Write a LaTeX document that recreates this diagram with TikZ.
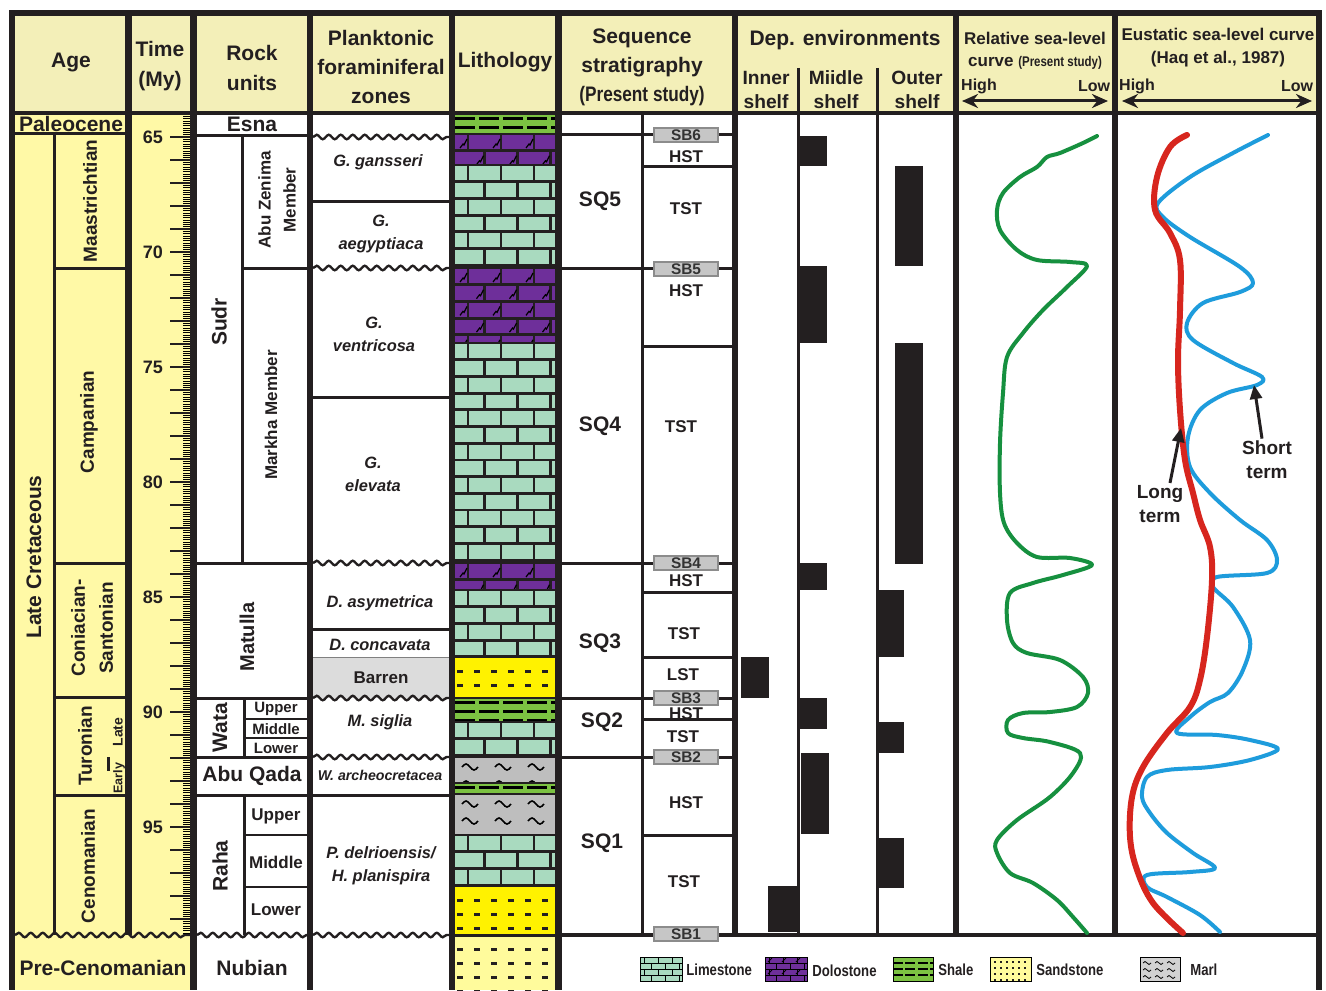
\documentclass[tikz,border=0pt]{standalone}
\usepackage{fontspec}
\setmainfont{Liberation Sans}
\newfontfamily\narrowfont{Liberation Sans}[FakeStretch=0.82]
\usetikzlibrary{positioning, calc, arrows.meta, decorations.pathmorphing}

\definecolor{hdrbg}{HTML}{F3EFB8}
\definecolor{agebg}{HTML}{FFF9A6}
\definecolor{limecol}{HTML}{A9DABF}
\definecolor{dolocol}{HTML}{6E2F9A}
\definecolor{shalecol}{HTML}{7CC242}
\definecolor{sandcol}{HTML}{FFF200}
\definecolor{sandpale}{HTML}{FFFB9C}
\definecolor{marlcol}{HTML}{BEBEBE}
\definecolor{barrencol}{HTML}{DCDCDC}
\definecolor{sbgray}{HTML}{C6C6C6}
\definecolor{inkcol}{HTML}{231F20}
\definecolor{relcol}{HTML}{16903F}
\definecolor{longcol}{HTML}{D7261E}
\definecolor{shortcol}{HTML}{1E9CDC}

% lithology column: x = 455 ... 555
\newcommand\bricks[3]{%
  \begin{scope}
    \clip (455,#1) rectangle (555,#2);
    \fill[#3] (455,#1) rectangle (555,#2);
    \foreach \k in {0,...,14} {
      \pgfmathsetmacro\yy{#1+16.7*\k}
      \pgfmathsetmacro\xo{mod(\k,2)*16.5}
      \draw[mortar] (455,\yy) -- (555,\yy);
      \foreach \j in {0,1,2}
        \draw[mortar] ({468+\xo+33*\j},\yy) -- ++(0,16.7);
    }
  \end{scope}}
\newcommand\dolomarks[2]{%
  \begin{scope}
    \clip (455,#1) rectangle (555,#2);
    \foreach \k in {0,...,14} {
      \pgfmathsetmacro\yy{#1+16.7*\k}
      \pgfmathsetmacro\xo{mod(\k,2)*16.5}
      \foreach \j in {-1,0,1,2}
        \draw[line width=0.6pt] ({460+\xo+33*\j},{\yy+14}) -- ++(3,-4) -- ++(1,1) -- ++(3,-6);
    }
  \end{scope}}
\newcommand\shale[2]{%
  \begin{scope}
    \clip (455,#1) rectangle (555,#2);
    \fill[shalecol] (455,#1) rectangle (555,#2);
    \foreach \k in {0,...,3}
      \draw[line width=1.5pt, dash pattern=on 10pt off 2pt] (455,{#1+4+9*\k}) -- (555,{#1+4+9*\k});
  \end{scope}}
\newcommand\sandstone[3]{%
  \begin{scope}
    \clip (455,#1) rectangle (555,#2);
    \fill[#3] (455,#1) rectangle (555,#2);
    \foreach \k in {0,...,4}
      \foreach \xx in {457,474,...,550}
        \fill[inkcol] (\xx,{#1+13+14*\k}) rectangle ++(6,3);
  \end{scope}}
\newcommand\marl[2]{%
  \begin{scope}
    \clip (455,#1) rectangle (555,#2);
    \fill[marlcol] (455,#1) rectangle (555,#2);
    \foreach \k in {0,...,3}
      \foreach \xx in {462,495,528}
        \draw[line width=0.8pt] (\xx,{#1+10+17*\k}) sin ++(4,-3) cos ++(4,3) sin ++(4,3) cos ++(4,-3);
  \end{scope}}
% legend swatch with bricks
\newcommand\legendbricks[2]{%
  \begin{scope}
    \clip (#1,957) rectangle ++(42,24);
    \fill[#2] (#1,957) rectangle ++(42,24);
    \foreach \k in {0,...,3} {
      \pgfmathsetmacro\yy{957+6*\k}
      \pgfmathsetmacro\xo{mod(\k,2)*7}
      \draw[line width=0.5pt] (#1,\yy) -- ++(42,0);
      \foreach \j in {0,...,3}
        \draw[line width=0.5pt] ({#1+4+\xo+14*\j},\yy) -- ++(0,6);
    }
  \end{scope}
  \draw[line width=0.5pt] (#1,957) rectangle ++(42,24);}

\begin{document}
\begin{tikzpicture}[x=0.5pt, y=-0.5pt, font=\bfseries, text=inkcol,
    sep/.style={line width=3pt, draw=inkcol},
    rule/.style={line width=1.5pt, draw=inkcol},
    fine/.style={line width=1pt, draw=inkcol},
    mortar/.style={line width=1.4pt, draw=inkcol},
    wavy/.style={draw=inkcol, line width=1.2pt, decorate, decoration={snake, segment length=6pt, amplitude=1.1pt}},
    hdr/.style={align=center, inner sep=0pt, font=\bfseries\fontsize{10.5}{14.5}\selectfont},
    rockname/.style={inner sep=0pt, font=\bfseries\fontsize{10.5}{12}\selectfont},
    stage/.style={rotate=90, align=center, inner sep=0pt, font=\bfseries\fontsize{9.5}{14}\selectfont},
    member/.style={rotate=90, align=center, inner sep=0pt, font=\bfseries\fontsize{8.5}{12.5}\selectfont},
    subunit/.style={inner sep=0pt, font=\bfseries\fontsize{8.5}{10}\selectfont},
    zone/.style={align=center, inner sep=0pt, font=\bfseries\itshape\fontsize{8.2}{11.5}\selectfont},
    ticklab/.style={inner sep=0pt, font=\bfseries\fontsize{9}{10}\selectfont},
    tract/.style={inner sep=0pt, font=\bfseries\fontsize{8.5}{10}\selectfont},
    seqlab/.style={inner sep=0pt, font=\bfseries\fontsize{10.5}{12}\selectfont},
    sbbox/.style={draw=black!45, fill=sbgray, line width=0.6pt, minimum width=32pt, minimum height=7pt, inner sep=0pt, text=black!80, font=\bfseries\fontsize{7.7}{8}\selectfont},
    envbar/.style={fill=inkcol},
    legtext/.style={anchor=west, inner sep=0pt, font=\narrowfont\bfseries\fontsize{8}{9}\selectfont},
    termlab/.style={align=center, inner sep=0pt, font=\bfseries\fontsize{9.5}{12}\selectfont},
    pointer/.style={line width=1.5pt, draw=inkcol, -{Triangle[length=7pt, width=6pt]}},
    scalearrow/.style={line width=1.5pt, draw=inkcol, {Stealth[length=8pt, width=7pt]}-{Stealth[length=8pt, width=7pt]}}]

    \useasboundingbox (0,0) rectangle (1326,990);
    \fill[white] (0,0) rectangle (1326,990);

    % Backgrounds
    \fill[hdrbg] (14,16) rectangle (1318,113);
    \fill[agebg] (14,113) rectangle (192,990);
    \fill[barrencol] (313,657) rectangle (449,698);

    % Lithology
    \shale{114}{134}
    \bricks{134}{165}{dolocol} \dolomarks{134}{165}
    \bricks{165}{268}{limecol}
    \bricks{268}{343}{dolocol} \dolomarks{268}{343}
    \bricks{343}{563}{limecol}
    \bricks{563}{590}{dolocol} \dolomarks{563}{590}
    \bricks{590}{657}{limecol}
    \sandstone{657}{698}{sandcol}
    \shale{698}{722}
    \bricks{722}{757}{limecol}
    \marl{757}{783}
    \shale{783}{794}
    \marl{794}{835}
    \bricks{835}{886}{limecol}
    \sandstone{886}{935}{sandcol}
    \sandstone{935}{990}{sandpale}
    \foreach \y in {134,165,268,343,563,590,657,698,722,757,783,794,835,886}
      \draw[fine] (455,\y) -- (555,\y);
    \draw[rule] (455,935) -- (555,935);

    % Dep. environments bars
    \fill[envbar] (800,136) rectangle (827,166);
    \fill[envbar] (895,166) rectangle (923,266);
    \fill[envbar] (800,266) rectangle (827,343);
    \fill[envbar] (895,343) rectangle (923,564);
    \fill[envbar] (800,563) rectangle (827,590);
    \fill[envbar] (876,590) rectangle (904,657);
    \fill[envbar] (741,657) rectangle (769,698);
    \fill[envbar] (800,698) rectangle (827,729);
    \fill[envbar] (878,722) rectangle (904,753);
    \fill[envbar] (801,753) rectangle (829,834);
    \fill[envbar] (878,838) rectangle (904,888);
    \fill[envbar] (768,886) rectangle (798,932);
    \draw[rule] (798,68) -- (798,935);
    \draw[rule] (877,68) -- (877,935);

    % Age column
    \draw[rule] (14,133) -- (127,133);
    \draw[rule] (54.5,133) -- (54.5,935);
    \foreach \y in {268,563,697,795}
      \draw[rule] (54,\y) -- (127,\y);
    \draw[rule] (108,757) -- (108,771);
    \draw[wavy] (15,935) -- (190,935);

    % Time scale (65 My at y = 137, 23 px per My)
    \foreach \i in {0,...,356}
      \draw[line width=0.3pt] (183,{114+2.3*\i}) -- ++(7,0);
    \foreach \t in {65,...,99}
      \draw[fine] (170,{137+23*(\t-65)}) -- (190,{137+23*(\t-65)});
    \foreach \t in {65,70,...,95}
      \node[ticklab] (t\t) at (153,{137+23*(\t-65)}) {\t};

    % Rock units
    \draw[rule] (197,135) -- (307,135);
    \draw[rule] (242,135) -- (242,563);
    \draw[rule] (242,268) -- (307,268);
    \draw[rule] (197,563) -- (307,563);
    \draw[rule] (197,698) -- (307,698);
    \draw[rule] (244,698) -- (244,757);
    \draw[fine] (244,719) -- (307,719);
    \draw[fine] (244,738) -- (307,738);
    \draw[rule] (197,757) -- (307,757);
    \draw[rule] (197,795) -- (307,795);
    \draw[rule] (244,795) -- (244,935);
    \draw[fine] (244,835) -- (307,835);
    \draw[fine] (244,887) -- (307,887);
    \draw[wavy] (197,935) -- (307,935);

    % Planktonic zones
    \foreach \y in {137,268,563,698,757,935}
      \draw[wavy] (313,\y) -- (449,\y);
    \foreach \y in {201,397,629,795}
      \draw[rule] (313,\y) -- (449,\y);
    \draw[line width=0.5pt, draw=black!50] (313,657) -- (449,657);

    % Sequence stratigraphy
    \draw[rule] (642,114) -- (642,935);
    \foreach \y in {134,268,563,698,757}
      \draw[rule] (562,\y) -- (732,\y);
    \foreach \y in {166,346,592,657,719,835}
      \draw[rule] (642,\y) -- (732,\y);
    \fill[inkcol] (555,933) rectangle (1316,937);

    % Frame and column separators
    \fill[inkcol] (9,10) rectangle (1322,16);
    \fill[inkcol] (9,10) rectangle (15,990);
    \fill[inkcol] (1316,10) rectangle (1322,990);
    \fill[inkcol] (9,111) rectangle (1322,115);
    \fill[inkcol] (125,10) rectangle (132,935);
    \foreach \xa/\xb in {190/197,307/313,449/455,555/562}
      \fill[inkcol] (\xa,10) rectangle (\xb,990);
    \foreach \xa/\xb in {732/738,953/959,1112/1118}
      \fill[inkcol] (\xa,10) rectangle (\xb,935);

    % Header texts
    \node[hdr] (age-h) at (71,63) {Age};
    \node[hdr, font=\bfseries\fontsize{10.5}{15}\selectfont] (time-h) at (160,66) {Time\\(My)};
    \node[hdr, font=\bfseries\fontsize{10.5}{15}\selectfont] (rock-h) at (252,68) {Rock\\units};
    \node[hdr] (plank-h) at (381,67) {Planktonic\\foraminiferal\\zones};
    \node[hdr] (litho-h) at (505,62) {Lithology};
    \node[hdr] (seq-h) at (642,67) {Sequence\\stratigraphy\\{\narrowfont\fontsize{10.5}{14.5}\selectfont(Present study)}};
    \node[hdr] (dep-h) at (845,40) {Dep. environments};
    \node[hdr, font=\bfseries\fontsize{9.6}{12}\selectfont] (inner-h) at (766,90) {Inner\\shelf};
    \node[hdr, font=\bfseries\fontsize{9.6}{12}\selectfont] (middle-h) at (836,90) {Miidle\\shelf};
    \node[hdr, font=\bfseries\fontsize{9.6}{12}\selectfont] (outer-h) at (917,90) {Outer\\shelf};
    \node[hdr, font=\bfseries\fontsize{8.5}{11}\selectfont] (rel-h) at (1035,51) {Relative sea-level\\curve {\narrowfont\fontsize{7}{11}\selectfont(Present study)}};
    \node[hdr, font=\bfseries\fontsize{8.5}{11.5}\selectfont] (eus-h) at (1218,48) {Eustatic sea-level curve\\(Haq et al., 1987)};
    \node[subunit, font=\bfseries\fontsize{8}{9}\selectfont] (rel-hi) at (979,86) {High};
    \node[subunit, font=\bfseries\fontsize{8}{9}\selectfont] (rel-lo) at (1094,86) {Low};
    \node[subunit, font=\bfseries\fontsize{8}{9}\selectfont] (eus-hi) at (1137,86) {High};
    \node[subunit, font=\bfseries\fontsize{8}{9}\selectfont] (eus-lo) at (1297,86) {Low};
    \coordinate (relL) at (962,101);
    \coordinate (relR) at (1108,101);
    \coordinate (eusL) at (1122,101);
    \coordinate (eusR) at (1312,101);
    \draw[scalearrow] (relL) -- (relR);
    \draw[scalearrow] (eusL) -- (eusR);

    % Age texts
    \node[rockname] (paleo) at (71,124) {Paleocene};
    \node[stage, font=\bfseries\fontsize{10.5}{12}\selectfont] (lateK) at (34,557) {Late Cretaceous};
    \node[stage] (maas) at (90,201) {Maastrichtian};
    \node[stage] (camp) at (89,422) {Campanian};
    \node[stage] (conSan) at (92,628) {Coniacian-\\Santonian};
    \node[stage] (tur) at (85,746) {Turonian};
    \node[stage, font=\bfseries\fontsize{7}{8}\selectfont] (turLate) at (118,732) {Late};
    \node[stage, font=\bfseries\fontsize{6.3}{8}\selectfont] (turEarly) at (119,778) {Early};
    \node[stage] (ceno) at (88,866) {Cenomanian};
    \node[rockname] (preCen) at (103,968) {Pre-Cenomanian};

    % Rock unit texts
    \node[rockname] (esna) at (252,124) {Esna};
    \node[stage, font=\bfseries\fontsize{10.5}{12}\selectfont] (sudr) at (219,322) {Sudr};
    \node[member] (abuZen) at (277,200) {Abu Zenima\\Member};
    \node[member] (markha) at (271,415) {Markha Member};
    \node[stage, font=\bfseries\fontsize{10}{12}\selectfont] (matulla) at (247,637) {Matulla};
    \node[stage, font=\bfseries\fontsize{10.5}{12}\selectfont] (wata) at (220,728) {Wata};
    \node[subunit, font=\bfseries\fontsize{7.5}{8}\selectfont] (wataU) at (276,709) {Upper};
    \node[subunit, font=\bfseries\fontsize{7.5}{8}\selectfont] (wataM) at (276,729) {Middle};
    \node[subunit, font=\bfseries\fontsize{7.5}{8}\selectfont] (wataL) at (276,748) {Lower};
    \node[rockname] (abuQada) at (252,776) {Abu Qada};
    \node[stage, font=\bfseries\fontsize{10.5}{12}\selectfont] (raha) at (220,866) {Raha};
    \node[subunit] (rahaU) at (276,816) {Upper};
    \node[subunit] (rahaM) at (276,862) {Middle};
    \node[subunit] (rahaL) at (276,910) {Lower};
    \node[rockname] (nubian) at (252,968) {Nubian};

    % Zone texts
    \node[zone] (gans) at (378,162) {G. gansseri};
    \node[zone] (aegy) at (381,234) {G.\\aegyptiaca};
    \node[zone] (vent) at (374,334) {G.\\ventricosa};
    \node[zone] (elev) at (373,474) {G.\\elevata};
    \node[zone] (asym) at (380,603) {D. asymetrica};
    \node[zone] (conc) at (380,645) {D. concavata};
    \node[zone, font=\bfseries\fontsize{8.5}{10}\selectfont] (barren) at (381,678) {Barren};
    \node[zone] (sigl) at (380,722) {M. siglia};
    \node[zone, font=\bfseries\itshape\fontsize{7.1}{9}\selectfont] (arch) at (380,775) {W. archeocretacea};
    \node[zone] (delr) at (381,866) {P. delrioensis/\\H. planispira};

    % Sequences and systems tracts
    \node[seqlab] (sq5) at (600,201) {SQ5};
    \node[seqlab] (sq4) at (600,426) {SQ4};
    \node[seqlab] (sq3) at (600,643) {SQ3};
    \node[seqlab] (sq2) at (602,722) {SQ2};
    \node[seqlab] (sq1) at (602,843) {SQ1};
    \node[tract] (hst6) at (686,157) {HST};
    \node[tract] (tst5) at (686,209) {TST};
    \node[tract] (hst5) at (686,291) {HST};
    \node[tract] (tst4) at (681,427) {TST};
    \node[tract] (hst4) at (686,581) {HST};
    \node[tract] (tst3) at (684,634) {TST};
    \node[tract] (lst3) at (683,675) {LST};
    \node[tract] (hst3) at (686,714) {HST};
    \node[tract] (tst2) at (683,737) {TST};
    \node[tract] (hst2) at (686,803) {HST};
    \node[tract] (tst1) at (684,882) {TST};
    \node[sbbox] (sb6) at (686,135) {SB6};
    \node[sbbox] (sb5) at (686,269) {SB5};
    \node[sbbox] (sb4) at (686,563) {SB4};
    \node[sbbox] (sb3) at (686,698) {SB3};
    \node[sbbox] (sb2) at (686,757) {SB2};
    \node[sbbox] (sb1) at (686,934) {SB1};

    % Relative sea-level curve
    \draw[relcol, line width=2pt, line cap=round, line join=round] plot[smooth, tension=0.55] coordinates {
      (1097,136) (1083,143) (1060,153) (1047,157) (1037,167) (1020,177) (1003,193) (997,210) (1000,230)
      (1017,250) (1037,260) (1070,262) (1087,266) (1067,287) (1043,310) (1023,333) (1007,357) (1003,393)
      (1000,443) (1000,493) (1004,523) (1017,543) (1037,557) (1070,558) (1092,565) (1063,575) (1033,583)
      (1010,593) (1007,620) (1013,643) (1027,653) (1060,660) (1083,677) (1088,693) (1077,707) (1050,712)
      (1023,713) (1008,720) (1008,733) (1023,738) (1050,742) (1080,753) (1073,773) (1050,797) (1017,820)
      (997,840) (997,853) (1010,873) (1033,883) (1057,900) (1073,917) (1087,933)};

    % Eustatic curves
    \draw[shortcol, line width=2pt, line cap=round, line join=round] plot[smooth, tension=0.55] coordinates {
      (1268,135) (1233,153) (1190,177) (1158,203) (1163,217) (1190,237) (1240,267) (1253,283) (1240,292)
      (1203,303) (1187,323) (1193,340) (1233,363) (1262,377) (1257,385) (1227,393) (1200,410) (1188,437)
      (1190,467) (1210,493) (1240,520) (1267,540) (1277,560) (1267,573) (1217,577) (1213,587) (1233,607)
      (1250,640) (1243,670) (1228,693) (1210,702) (1190,717) (1177,733) (1217,735) (1250,740) (1278,749)
      (1250,760) (1210,767) (1167,770) (1147,777) (1142,797) (1150,813) (1167,833) (1193,853) (1215,868)
      (1190,872) (1147,875) (1147,887) (1167,897) (1200,915) (1220,932)};
    \draw[longcol, line width=3pt, line cap=round, line join=round] plot[smooth, tension=0.6] coordinates {
      (1187,135) (1170,147) (1157,177) (1155,210) (1170,233) (1180,260) (1180,310) (1178,360) (1180,410)
      (1185,460) (1193,493) (1200,520) (1210,547) (1212,580) (1207,637) (1200,680) (1190,707) (1167,733)
      (1143,767) (1132,797) (1130,837) (1137,870) (1153,903) (1183,933)};

    % Curve labels
    \node[termlab] (longT) at (1160,504) {Long\\term};
    \node[termlab] (shortT) at (1267,460) {Short\\term};
    \coordinate (longTip) at (1181,428);
    \coordinate (shortTip) at (1254,385);
    \draw[pointer] (longT.north) ++(10,-2) -- (longTip);
    \draw[pointer] (shortT.north) ++(-5,-2) -- (shortTip);

    % Legend
    \legendbricks{640}{limecol}
    \node[legtext] (leg-lime) at (686,970) {Limestone};
    \legendbricks{765}{dolocol}
    \foreach \xx in {768,782,796}
      \foreach \yy in {962,974}
        \draw[line width=0.4pt] (\xx,\yy) -- ++(4,-4);
    \node[legtext] (leg-dolo) at (812,971) {Dolostone};
    \fill[shalecol] (893,957) rectangle (933,981);
    \foreach \yy in {963,969,975}
      \draw[line width=0.8pt, dash pattern=on 5pt off 1.2pt] (893,\yy) -- (933,\yy);
    \draw[line width=0.5pt] (893,957) rectangle (933,981);
    \node[legtext] (leg-shale) at (938,970) {Shale};
    \fill[sandpale] (990,957) rectangle (1031,981);
    \foreach \yy in {961,967,...,979}
      \foreach \xx in {994,1000,...,1028}
        \fill[inkcol] (\xx,\yy) rectangle ++(1.6,1.6);
    \draw[line width=0.5pt] (990,957) rectangle (1031,981);
    \node[legtext] (leg-sand) at (1036,970) {Sandstone};
    \fill[marlcol!70] (1140,957) rectangle (1180,981);
    \foreach \yy in {963,970,977}
      \foreach \xx in {1143,1155,1167}
        \draw[line width=0.4pt] (\xx,\yy) sin ++(2,-1.5) cos ++(2,1.5) sin ++(2,1.5) cos ++(2,-1.5);
    \draw[line width=0.5pt] (1140,957) rectangle (1180,981);
    \node[legtext] (leg-marl) at (1190,970) {Marl};

\end{tikzpicture}
\end{document}
